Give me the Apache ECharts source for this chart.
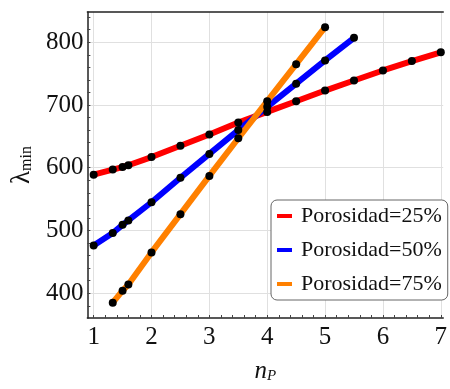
<!DOCTYPE html>
<html><head><meta charset="utf-8">
<script src="https://cdn.jsdelivr.net/npm/echarts@6/dist/echarts.min.js"></script>
<style>html,body{margin:0;padding:0;background:#fff}#c{width:450px;height:389px}</style>
</head><body><div id="c"></div>
<script>
// ---- data ----
const seriesNames = ['Porosidad=25%', 'Porosidad=50%', 'Porosidad=75%'];
const red25 = [[1,589],[1.33,597],[1.5,601],[1.6,604],[2,617],[2.5,635],[3,653],[3.5,672],[4,689],[4.5,706],[5,723],[5.5,739],[6,755],[6.5,770],[7,784]];
const blue50 = [[1,476],[1.33,496],[1.5,509],[1.6,516],[2,545],[2.5,584],[3,622],[3.5,660],[4,697],[4.5,734],[5,771],[5.5,807]];
const orange75 = [[1.33,385],[1.5,404],[1.6,414],[2,465],[2.5,526],[3,587],[3.5,647],[4,706],[4.5,765],[5,824]];
const xTickLabels = [1,2,3,4,5,6,7];
const yTickLabels = [400,500,600,700,800];

// ---- presentation ----
const colors = ['#ff0000', '#0000ff', '#ff8000'];
const dataSets = [red25, blue50, orange75];
const FONT = 'Liberation Serif';
const xMinor = []; for (let i = 0; i <= 30; i++) xMinor.push(+(1 + i * 0.2).toFixed(2));
const yMinor = []; for (let v = 380; v <= 840; v += 20) yMinor.push(v);
const XMIN = 0.892, XMAX = 7.042, YMIN = 360.5, YMAX = 848.2;

const series = [];
dataSets.forEach((d, i) => {
  series.push({ name: seriesNames[i], type: 'line', data: d, showSymbol: false, symbol: 'none',
    lineStyle: { color: colors[i], width: 6 }, itemStyle: { color: colors[i] }, z: 2 + i, silent: true, animation: false });
});
dataSets.forEach((d, i) => {
  series.push({ type: 'scatter', data: d, symbolSize: 8, itemStyle: { color: '#000', opacity: 1 }, z: 10, animation: false });
});

const chart = echarts.init(document.getElementById('c'), null, { renderer: 'canvas' });
chart.setOption({
  backgroundColor: '#fff',
  animation: false,
  grid: { left: 81, top: 12, right: 0, bottom: 60, containLabel: false },
  xAxis: [
    { type: 'value', min: XMIN, max: XMAX, position: 'bottom',
      axisLine: { show: true, onZero: false, lineStyle: { color: '#222', width: 1.5 } },
      axisTick: { show: true, inside: true, length: 3, customValues: xMinor, lineStyle: { color: '#444' } },
      axisLabel: { customValues: xTickLabels, margin: 7, fontFamily: FONT, fontSize: 25, color: '#111' },
      splitLine: { show: false },
      name: '{n|n}{s|P}', nameLocation: 'middle', nameGap: 41,
      nameTextStyle: { rich: {
        n: { fontFamily: FONT, fontStyle: 'italic', fontSize: 25, color: '#111' },
        s: { fontFamily: FONT, fontStyle: 'italic', fontSize: 15, color: '#111', padding: [10, 0, 0, 0] } } } },
    { type: 'value', min: XMIN, max: XMAX, position: 'top',
      axisLine: { show: true, onZero: false, lineStyle: { color: '#222', width: 1.5 } },
      axisTick: { show: false, customValues: xTickLabels },
      axisLabel: { show: false },
      splitLine: { show: true, lineStyle: { color: '#e0e0e0', width: 1 } } }
  ],
  yAxis: [
    { type: 'value', min: YMIN, max: YMAX, position: 'left',
      axisLine: { show: true, onZero: false, lineStyle: { color: '#222', width: 1.5 } },
      axisTick: { show: true, inside: true, length: 3, customValues: yMinor, lineStyle: { color: '#444' } },
      axisLabel: { customValues: yTickLabels, margin: 4, fontFamily: FONT, fontSize: 25, color: '#111' },
      splitLine: { show: false },
      name: '{l|λ}{s|min}', nameLocation: 'middle', nameGap: 50, nameRotate: 90,
      nameTextStyle: { rich: {
        l: { fontFamily: FONT, fontSize: 27, color: '#111' },
        s: { fontFamily: FONT, fontSize: 16, color: '#111', padding: [10, 0, 0, 0] } } } },
    { type: 'value', min: YMIN, max: YMAX, position: 'right',
      axisLine: { show: false }, axisTick: { show: false, customValues: yTickLabels },
      axisLabel: { show: false },
      splitLine: { show: true, lineStyle: { color: '#e0e0e0', width: 1 } } }
  ],
  legend: {
    data: seriesNames, orient: 'vertical', left: 271, top: 200,
    icon: 'rect', itemWidth: 15, itemHeight: 4, itemGap: 12,
    padding: [5, 6, 5, 6],
    backgroundColor: '#fff', borderColor: '#666', borderWidth: 1, borderRadius: 6,
    textStyle: { fontFamily: FONT, fontSize: 22, color: '#111', lineHeight: 22, padding: [0, 0, 0, 4] },
    selectedMode: false
  },
  series: series
});
</script></body></html>
